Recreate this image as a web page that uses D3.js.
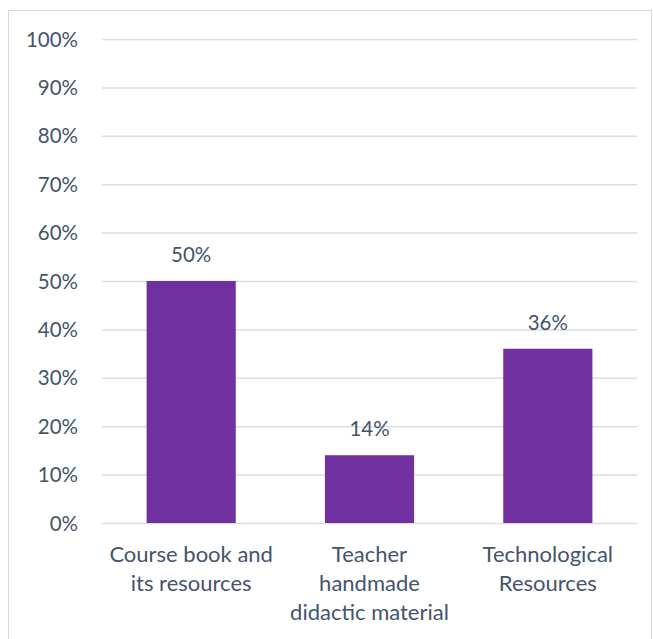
<!DOCTYPE html>
<html>
<head>
<meta charset="utf-8">
<script src="https://cdn.jsdelivr.net/npm/d3@7"></script>
<style>
  html, body { margin: 0; padding: 0; background: #fff; }
  svg { display: block; }
  text { font-family: Lato, "Open Sans", sans-serif; fill: #44546A; }
</style>
</head>
<body>
<svg id="chart" width="653" height="639"></svg>
<script>
// Share of teaching resources used
const categories = [
  ["Course book and", "its resources"],
  ["Teacher", "handmade", "didactic material"],
  ["Technological", "Resources"]
];
const values = [50, 14, 36];
const valueLabels = ["50%", "14%", "36%"];
const tickValues = [0, 10, 20, 30, 40, 50, 60, 70, 80, 90, 100];

const svg = d3.select("#chart");
const plot = { left: 102, right: 637, top: 39, bottom: 523 };

// outer frame
svg.append("rect")
  .attr("x", 8.5).attr("y", 10.5)
  .attr("width", 643).attr("height", 640)
  .attr("fill", "none").attr("stroke", "#D9D9D9").attr("stroke-width", 1);

const x = d3.scaleBand()
  .domain(d3.range(categories.length))
  .range([plot.left, plot.right])
  .paddingInner(0).paddingOuter(0);

const y = d3.scaleLinear().domain([0, 100]).range([plot.bottom, plot.top]);

// gridlines and percentage ticks
const yAxis = d3.axisLeft(y)
  .tickValues(tickValues)
  .tickSize(-(plot.right - plot.left))
  .tickPadding(24)
  .tickFormat(d => d + "%");

const gy = svg.append("g")
  .attr("transform", `translate(${plot.left},0)`)
  .call(yAxis);
gy.select(".domain").remove();
gy.selectAll(".tick line").attr("stroke", "#DADDE3").attr("stroke-width", 1.5);
gy.selectAll(".tick text")
  .attr("font-size", 20.5)
  .attr("fill", "#44546A")
  .attr("dy", "0.35em");

// bars
const barW = x.bandwidth() * 0.5;
svg.append("g").selectAll("rect")
  .data(values)
  .join("rect")
  .attr("x", (d, i) => x(i) + (x.bandwidth() - barW) / 2)
  .attr("y", d => y(d))
  .attr("width", barW)
  .attr("height", d => y(0) - y(d))
  .attr("fill", "#7030A0");

// value labels
svg.append("g").selectAll("text")
  .data(values)
  .join("text")
  .attr("x", (d, i) => x(i) + x.bandwidth() / 2)
  .attr("y", d => y(d) - 19)
  .attr("text-anchor", "middle")
  .attr("font-size", 20.5)
  .text((d, i) => valueLabels[i]);

// category labels
const cat = svg.append("g").selectAll("text")
  .data(categories)
  .join("text")
  .attr("text-anchor", "middle")
  .attr("font-size", 22)
  .attr("x", (d, i) => x(i) + x.bandwidth() / 2)
  .attr("y", 562);
cat.selectAll("tspan")
  .data(d => d)
  .join("tspan")
  .attr("x", function () { return d3.select(this.parentNode).attr("x"); })
  .attr("y", (d, j) => 562 + j * 29)
  .text(d => d);
</script>
</body>
</html>
